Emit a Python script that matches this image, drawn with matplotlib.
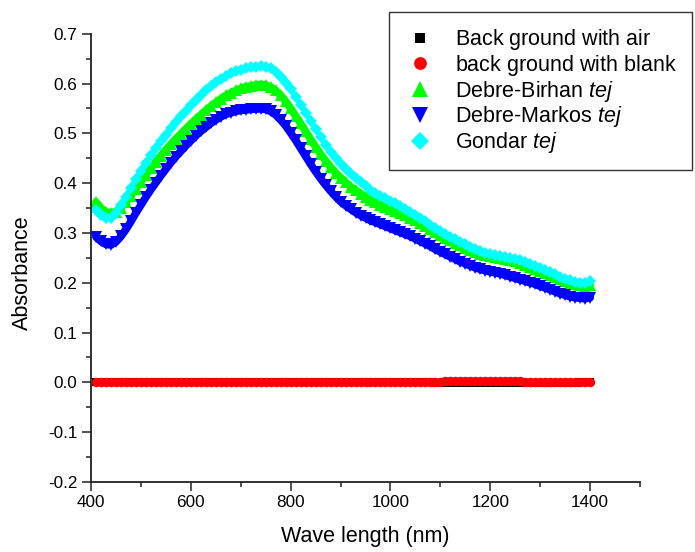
import matplotlib
matplotlib.use("Agg")
import matplotlib.pyplot as plt

plt.rcParams['font.family'] = ['Liberation Sans', 'DejaVu Sans']
plt.rcParams['axes.unicode_minus'] = False
plt.rcParams['mathtext.fontset'] = 'custom'
plt.rcParams['mathtext.rm'] = 'Liberation Sans'
plt.rcParams['mathtext.it'] = 'Liberation Sans:italic'

# wavelength grid (nm)
wavelength = [
    410, 420, 430, 440, 450, 460, 470, 480, 490, 500,
    510, 520, 530, 540, 550, 560, 570, 580, 590, 600,
    610, 620, 630, 640, 650, 660, 670, 680, 690, 700,
    710, 720, 730, 740, 750, 760, 770, 780, 790, 800,
    810, 820, 830, 840, 850, 860, 870, 880, 890, 900,
    910, 920, 930, 940, 950, 960, 970, 980, 990, 1000,
    1010, 1020, 1030, 1040, 1050, 1060, 1070, 1080, 1090, 1100,
    1110, 1120, 1130, 1140, 1150, 1160, 1170, 1180, 1190, 1200,
    1210, 1220, 1230, 1240, 1250, 1260, 1270, 1280, 1290, 1300,
    1310, 1320, 1330, 1340, 1350, 1360, 1370, 1380, 1390, 1400,
]

bg_air = [
    0.000, 0.000, 0.000, 0.000, 0.000, 0.000, 0.000, 0.000, 0.000, 0.000,
    0.000, 0.000, 0.000, 0.000, 0.000, 0.000, 0.000, 0.000, 0.000, 0.000,
    0.000, 0.000, 0.000, 0.000, 0.000, 0.000, 0.000, 0.000, 0.000, 0.000,
    0.000, 0.000, 0.000, 0.000, 0.000, 0.000, 0.000, 0.000, 0.000, 0.000,
    0.000, 0.000, 0.000, 0.000, 0.000, 0.000, 0.000, 0.000, 0.000, 0.000,
    0.000, 0.000, 0.000, 0.000, 0.000, 0.000, 0.000, 0.000, 0.000, 0.000,
    0.000, 0.000, 0.000, 0.000, 0.000, 0.000, 0.000, 0.000, -0.001, -0.001,
    -0.001, -0.001, -0.001, -0.001, -0.001, -0.001, -0.001, -0.001, -0.001, -0.001,
    -0.001, -0.001, -0.001, -0.001, -0.001, -0.001, -0.001, -0.001, -0.001, -0.001,
    -0.001, -0.001, -0.001, -0.001, -0.001, -0.001, -0.001, 0.000, 0.000, 0.000,
]

bg_blank = [
    0.000, 0.000, 0.000, 0.000, 0.000, 0.000, 0.000, 0.000, 0.000, 0.000,
    0.000, 0.000, 0.000, 0.000, 0.000, 0.000, 0.000, 0.000, 0.000, 0.000,
    0.000, 0.000, 0.000, 0.000, 0.000, 0.000, 0.000, 0.000, 0.000, 0.000,
    0.000, 0.000, 0.000, 0.000, 0.000, 0.000, 0.000, 0.000, 0.000, 0.000,
    0.000, 0.000, 0.000, 0.000, 0.000, 0.000, 0.000, 0.000, 0.000, 0.000,
    0.000, 0.000, 0.000, 0.000, 0.000, 0.000, 0.000, 0.000, 0.000, 0.000,
    0.001, 0.001, 0.001, 0.001, 0.001, 0.001, 0.001, 0.001, 0.001, 0.001,
    0.002, 0.002, 0.002, 0.002, 0.002, 0.003, 0.003, 0.003, 0.003, 0.003,
    0.003, 0.003, 0.002, 0.002, 0.002, 0.002, 0.001, 0.001, 0.001, 0.001,
    0.001, 0.001, 0.000, 0.000, 0.000, 0.000, 0.000, 0.000, 0.000, 0.000,
]

debre_birhan = [
    0.362, 0.350, 0.342, 0.340, 0.343, 0.351, 0.362, 0.375, 0.389, 0.403,
    0.417, 0.430, 0.443, 0.455, 0.467, 0.478, 0.489, 0.499, 0.509, 0.519,
    0.528, 0.537, 0.546, 0.554, 0.562, 0.569, 0.576, 0.581, 0.586, 0.590,
    0.593, 0.595, 0.597, 0.598, 0.597, 0.593, 0.586, 0.576, 0.564, 0.550,
    0.535, 0.520, 0.504, 0.488, 0.473, 0.458, 0.445, 0.432, 0.421, 0.411,
    0.402, 0.393, 0.386, 0.379, 0.373, 0.367, 0.362, 0.357, 0.353, 0.349,
    0.345, 0.341, 0.336, 0.331, 0.326, 0.320, 0.314, 0.308, 0.302, 0.296,
    0.290, 0.285, 0.280, 0.275, 0.270, 0.266, 0.262, 0.258, 0.255, 0.253,
    0.251, 0.249, 0.247, 0.245, 0.243, 0.240, 0.236, 0.232, 0.228, 0.224,
    0.220, 0.216, 0.212, 0.208, 0.204, 0.200, 0.197, 0.195, 0.194, 0.196,
]

debre_markos = [
    0.292, 0.283, 0.277, 0.276, 0.282, 0.293, 0.307, 0.323, 0.340, 0.356,
    0.372, 0.387, 0.401, 0.415, 0.428, 0.441, 0.453, 0.464, 0.475, 0.485,
    0.495, 0.504, 0.512, 0.520, 0.527, 0.533, 0.538, 0.541, 0.544, 0.546,
    0.547, 0.548, 0.549, 0.549, 0.548, 0.544, 0.537, 0.527, 0.515, 0.501,
    0.486, 0.470, 0.454, 0.438, 0.423, 0.409, 0.396, 0.384, 0.373, 0.363,
    0.355, 0.348, 0.341, 0.335, 0.330, 0.325, 0.321, 0.317, 0.313, 0.309,
    0.305, 0.301, 0.297, 0.293, 0.288, 0.283, 0.278, 0.273, 0.267, 0.262,
    0.257, 0.252, 0.247, 0.242, 0.238, 0.234, 0.230, 0.227, 0.224, 0.222,
    0.220, 0.218, 0.215, 0.212, 0.209, 0.206, 0.203, 0.200, 0.197, 0.193,
    0.190, 0.186, 0.182, 0.178, 0.175, 0.172, 0.170, 0.169, 0.168, 0.170,
]

gondar = [
    0.347, 0.337, 0.330, 0.330, 0.340, 0.356, 0.373, 0.391, 0.409, 0.425,
    0.441, 0.456, 0.470, 0.484, 0.497, 0.510, 0.522, 0.534, 0.545, 0.556,
    0.567, 0.577, 0.586, 0.595, 0.603, 0.610, 0.616, 0.621, 0.625, 0.628,
    0.631, 0.633, 0.634, 0.635, 0.634, 0.631, 0.624, 0.614, 0.602, 0.588,
    0.573, 0.557, 0.541, 0.525, 0.509, 0.493, 0.477, 0.463, 0.450, 0.439,
    0.429, 0.419, 0.410, 0.402, 0.394, 0.387, 0.381, 0.375, 0.370, 0.365,
    0.360, 0.355, 0.349, 0.343, 0.337, 0.330, 0.323, 0.316, 0.310, 0.303,
    0.297, 0.292, 0.287, 0.282, 0.277, 0.272, 0.267, 0.263, 0.260, 0.258,
    0.256, 0.254, 0.252, 0.250, 0.248, 0.245, 0.241, 0.237, 0.233, 0.229,
    0.225, 0.221, 0.217, 0.212, 0.208, 0.205, 0.202, 0.200, 0.199, 0.203,
]

fig = plt.figure(figsize=(6.95, 5.52), dpi=100)
ax = fig.add_axes([91 / 695, 1 - 482 / 552, 549 / 695, 448.3 / 552])

# each series: a thick line underneath so the dense marker band looks continuous
series = [
    (bg_air, 's', 5.5, '#000000', r'$\text{Back ground with air}$', False),
    (bg_blank, 'o', 6.8, '#ff0000', r'$\text{back ground with blank}$', True),
    (debre_birhan, '^', 9.0, '#00ff00', r'$\text{Debre-Birhan }\mathit{tej}$', True),
    (debre_markos, 'v', 9.0, '#0000ff', r'$\text{Debre-Markos }\mathit{tej}$', True),
    (gondar, 'D', 6.6, '#00ffff', r'$\text{Gondar }\mathit{tej}$', True),
]
for vals, mk, size, col, lab, band in series:
    if band:
        ax.plot(wavelength, vals, ls='-', lw=size * 0.62, color=col,
                solid_capstyle='round')
    ax.plot(wavelength, vals, ls='none', marker=mk, ms=size, mew=0, color=col,
            label=lab)

ax.set_xlim(400, 1500)
ax.set_ylim(-0.2, 0.7)
ax.set_xticks([400, 600, 800, 1000, 1200, 1400])
ax.set_xticks([500, 700, 900, 1100, 1300, 1500], minor=True)
ax.set_yticks([-0.2, -0.1, 0.0, 0.1, 0.2, 0.3, 0.4, 0.5, 0.6, 0.7])
ax.set_yticks([-0.15, -0.05, 0.05, 0.15, 0.25, 0.35, 0.45, 0.55, 0.65], minor=True)
ax.set_yticklabels(['-0.2', '-0.1', '0.0', '0.1', '0.2', '0.3', '0.4', '0.5', '0.6', '0.7'])

for s in ['top', 'right']:
    ax.spines[s].set_visible(False)
for s in ['left', 'bottom']:
    ax.spines[s].set_linewidth(1.3)
    ax.spines[s].set_color('#222222')
ax.tick_params(which='major', direction='out', length=6.7, width=1.1, labelsize=12.3,
               color='#222222', pad=3)
ax.tick_params(which='minor', direction='out', length=3.6, width=1.1, color='#222222')

ax.set_xlabel('Wave length (nm)', fontsize=15.5, labelpad=11)
ax.set_ylabel('Absorbance', fontsize=15.5)
ax.yaxis.set_label_coords(-0.1056, 0.466)

leg = fig.legend(loc='upper left', bbox_to_anchor=(389 / 695, 1 - 12 / 552),
                 fontsize=15.5, markerscale=1.35, frameon=True, fancybox=False,
                 edgecolor='#000000', borderaxespad=0, handlelength=1.5,
                 handletextpad=0.85, labelspacing=0.035, borderpad=0.7)
leg.get_frame().set_linewidth(1.0)

fig.savefig('out.png', dpi=100)
